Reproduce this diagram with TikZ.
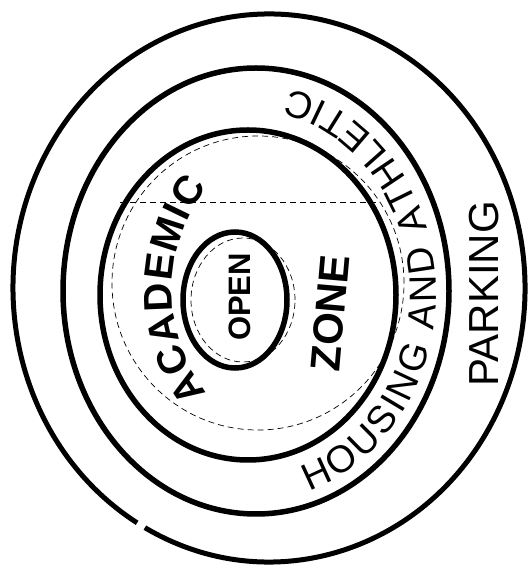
\documentclass[tikz,border=0pt]{standalone}
\usepackage{fontspec}
\setmainfont{Liberation Sans}
\usetikzlibrary{decorations.text}

\tikzset{
  ring/.style={draw=black,line width=5.5pt},
  pencil/.style={draw=black,line width=0.7pt,dash pattern=on 6pt off 4pt},
  zonelabel/.style={font=\bfseries\fontsize{42}{42}\selectfont,inner sep=0pt},
  thinlabel/.style={font=\fontsize{42}{42}\selectfont,inner sep=0pt}
}

\begin{document}
\begin{tikzpicture}[x=1pt,y=1pt]
  \useasboundingbox (0,0) rectangle (529,570);

  % rings, outside in
  \coordinate (outerc) at (269,282);
  \coordinate (middlec) at (256,279);
  \coordinate (innerc) at (248,275);
  \coordinate (openc) at (235,270);
  \draw[ring,line width=5pt] (outerc) ++(-119:256 and 274)
    arc[start angle=-119,end angle=239,x radius=256,y radius=274];
  \draw[ring] (middlec) ellipse[x radius=193,y radius=223];
  \draw[ring] (innerc) ellipse[x radius=148,y radius=165];
  \draw[ring] (openc) ellipse[x radius=52,y radius=68];

  % faint pencil guides
  \draw[pencil] (258,287) ellipse[x radius=146,y radius=147];
  \draw[pencil] (243,270) ellipse[x radius=52,y radius=62];
  \coordinate (cutl) at (120,368);
  \coordinate (cutr) at (380,368);
  \draw[pencil] (cutl) -- (cutr);

  % zone labels
  \path[decorate,decoration={text along path,text align=fit to path,
      text={|\bfseries\fontsize{40}{40}\selectfont|ACADEMIC}}]
    (339,280) ++(218:167) arc[start angle=218,end angle=142,radius=167];
  \node[zonelabel,font=\bfseries\fontsize{31}{31}\selectfont,rotate=90] (open) at (240,273) {OPEN};
  \node[zonelabel,rotate=85] (zone) at (330,257) {ZONE};
  \node[thinlabel,rotate=90] (parking) at (484,276) {PARKING};

  % curved label in the housing ring
  \path[decorate,decoration={text along path,text align=fit to path,
      text={|\fontsize{38}{38}\selectfont|HOUSING AND ATHLETIC}}]
    (252,277) ++(-72:184 and 208)
    arc[start angle=-72,end angle=78,x radius=184,y radius=208];
\end{tikzpicture}
\end{document}
